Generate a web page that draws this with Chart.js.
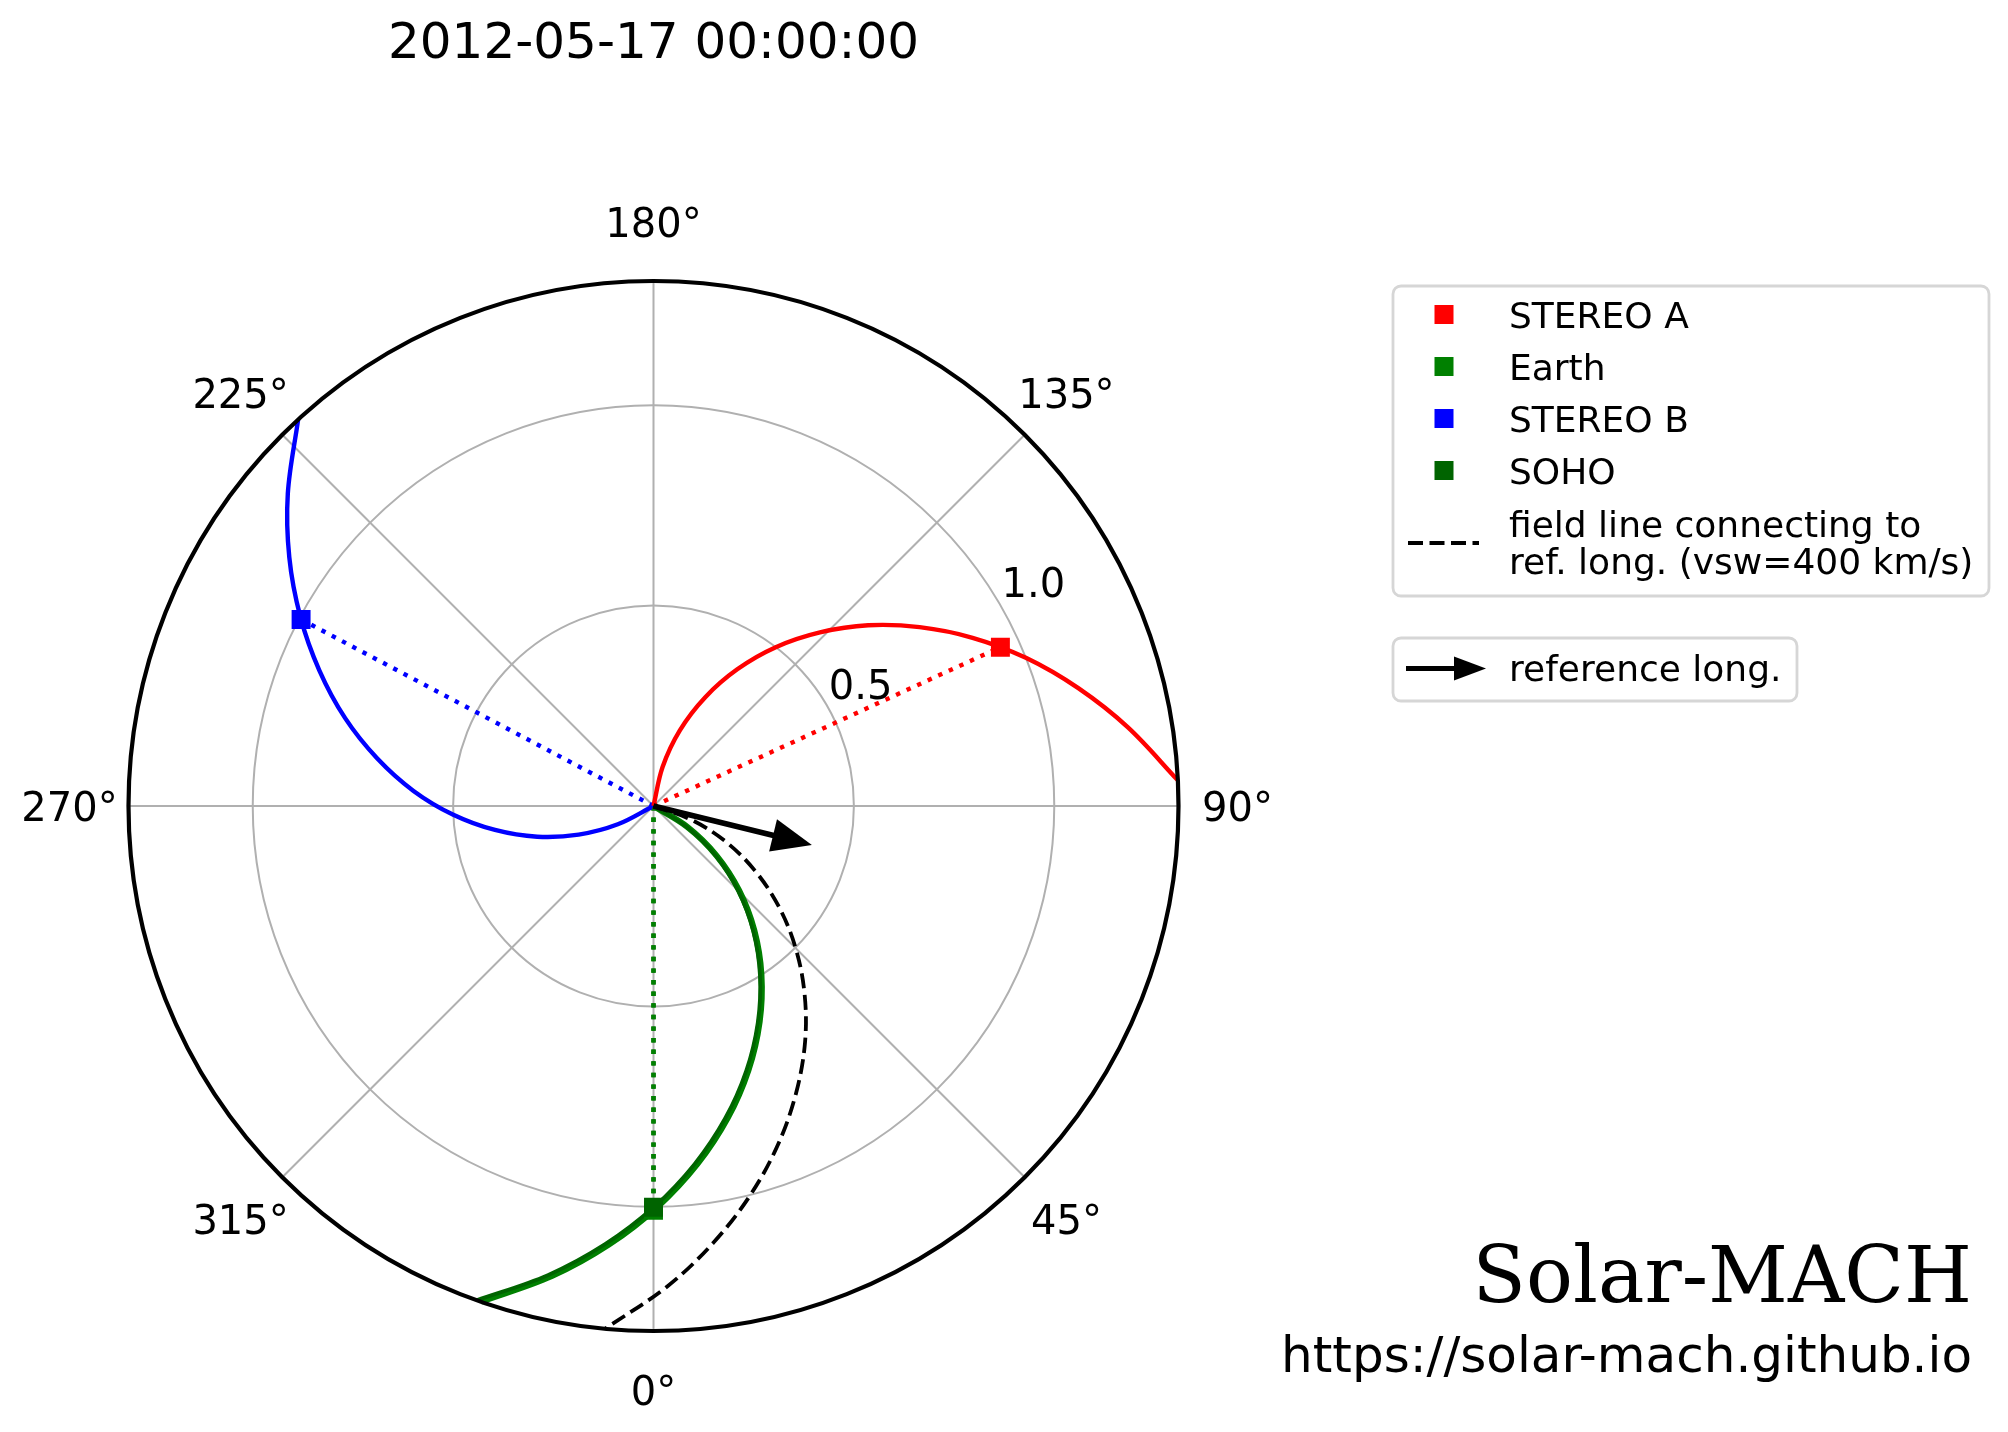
<!DOCTYPE html>
<html>
<head>
<meta charset="utf-8">
<title>Solar-MACH 2012-05-17</title>
<script src="https://cdn.jsdelivr.net/npm/chart.js@4.4.1/dist/chart.umd.min.js"></script>
<style>
html,body{margin:0;padding:0;background:#fff;}
#wrap{width:2008px;height:1432px;}
</style>
</head>
<body>
<div id="wrap"><canvas id="chart" width="2008" height="1432"></canvas></div>
<script>
var title="2012-05-17 00:00:00";
var bodies=["STEREO A","Earth","STEREO B","SOHO"];
var bodyColors=["#ff0000","#008000","#0000ff","#006400"];
var bodyDist=[0.952,1.009,0.995,1.001];   // AU
var bodyLon=[114.6,0.0,242.1,0.0];         // deg
// field lines: longitude (deg) at each radius (AU)
var spiralR=[0,0.1,0.2,0.3,0.4,0.5,0.6,0.7,0.8,0.9,1.0,1.1,1.2,1.31];
var lonStereoA=[173.1,166.9,160.8,154.6,148.5,142.4,136.2,130.1,123.9,117.8,111.7,105.5,99.4,92.8];
var lonEarth=[64.6,58.2,51.8,45.4,39.0,32.6,26.2,19.8,13.4,7.0,0.6,-5.8,-12.2,-19.2];
var lonStereoB=[303.2,297.1,290.9,284.8,278.6,272.5,266.4,260.2,254.1,247.9,241.8,235.7,229.5,222.6];
var lonSoho=[64.1,57.7,51.3,44.9,38.5,32.1,25.7,19.3,12.9,6.5,0.1,-6.3,-12.7,-19.7];
var lonRef=[76.2,70.0,63.8,57.5,51.3,45.1,38.9,32.7,26.4,20.2,14.0,7.8,1.6,-5.3];
var refLong=76.2, refArrowLen=0.407;
var rMax=1.31;
var rTicks=[0.5,1.0];
var rTickLabels=["0.5","1.0"];
var thetaTicks=[0,45,90,135,180,225,270,315];
var thetaLabels=["0°","45°","90°","135°","180°","225°","270°","315°"];

var spiralLons=[lonStereoA,lonEarth,lonStereoB,lonSoho];
var lineWidths=[4.4,6,4.4,3.8];

function toXY(r,lon){
	var a=lon*Math.PI/180;
	return {x:r*Math.sin(a),y:-r*Math.cos(a)};
}
function curve(lons){
	return spiralR.map(function(r,i){return toXY(r,lons[i]);});
}

var datasets=[];
for(var i=0;i<bodies.length;i++){
	datasets.push({label:bodies[i],data:[toXY(bodyDist[i],bodyLon[i])],showLine:false,
		pointStyle:"rect",pointRadius:13.4,backgroundColor:bodyColors[i],borderWidth:0,order:i==3?0:1});
	datasets.push({label:bodies[i]+" line",data:curve(spiralLons[i]),showLine:true,pointRadius:0,
		borderColor:bodyColors[i],borderWidth:lineWidths[i],tension:0.35,fill:false,order:i==3?4:5});
	datasets.push({label:bodies[i]+" radial",data:[toXY(0,bodyLon[i]),toXY(bodyDist[i],bodyLon[i])],showLine:true,
		pointRadius:0,borderColor:bodyColors[i],borderWidth:4.4,borderDash:[4.4,7.2],order:6});
}
datasets.push({label:"ref",data:curve(lonRef),showLine:true,pointRadius:0,borderColor:"#000",
	borderWidth:3.8,borderDash:[15,6.5],tension:0.35,order:3});

function legendBox(ctx,x,y,w,h){
	ctx.save();
	ctx.strokeStyle="#d6d6d6";ctx.lineWidth=2.8;
	ctx.beginPath();ctx.roundRect(x,y,w,h,8);ctx.stroke();
	ctx.restore();
}
function arrow(ctx,x0,y0,x1,y1,lw,hl,hw){
	var len=Math.hypot(x1-x0,y1-y0),ux=(x1-x0)/len,uy=(y1-y0)/len;
	ctx.save();
	ctx.strokeStyle="#000";ctx.fillStyle="#000";ctx.lineWidth=lw;
	ctx.beginPath();ctx.moveTo(x0,y0);ctx.lineTo(x1-ux*hl*0.8,y1-uy*hl*0.8);ctx.stroke();
	ctx.beginPath();ctx.moveTo(x1,y1);
	ctx.lineTo(x1-ux*hl-uy*hw,y1-uy*hl+ux*hw);
	ctx.lineTo(x1-ux*hl+uy*hw,y1-uy*hl-ux*hw);
	ctx.closePath();ctx.fill();
	ctx.restore();
}

var polarPlugin={
	id:"polar",
	beforeDatasetsDraw:function(chart){
		var ctx=chart.ctx,sx=chart.scales.x,sy=chart.scales.y;
		var cx=sx.getPixelForValue(0),cy=sy.getPixelForValue(0);
		var k=sx.getPixelForValue(1)-cx;
		ctx.save();
		ctx.strokeStyle="#b0b0b0";ctx.lineWidth=2;
		thetaTicks.forEach(function(t){
			var p=toXY(rMax,t);
			ctx.beginPath();ctx.moveTo(cx,cy);
			ctx.lineTo(sx.getPixelForValue(p.x),sy.getPixelForValue(p.y));ctx.stroke();
		});
		rTicks.forEach(function(r){
			ctx.beginPath();ctx.arc(cx,cy,r*k,0,2*Math.PI);ctx.stroke();
		});
		ctx.restore();
	},
	afterDatasetsDraw:function(chart){
		var ctx=chart.ctx,sx=chart.scales.x,sy=chart.scales.y;
		var cx=sx.getPixelForValue(0),cy=sy.getPixelForValue(0);
		var k=sx.getPixelForValue(1)-cx;
		// reference longitude arrow
		var tip=toXY(refArrowLen,refLong);
		arrow(ctx,cx,cy,sx.getPixelForValue(tip.x),sy.getPixelForValue(tip.y),5.5,40,16.5);
		// outer frame
		ctx.save();
		ctx.strokeStyle="#000";ctx.lineWidth=4.2;
		ctx.beginPath();ctx.arc(cx,cy,rMax*k,0,2*Math.PI);ctx.stroke();
		// angle labels
		ctx.fillStyle="#000";ctx.font="40px 'DejaVu Sans'";ctx.textAlign="center";ctx.textBaseline="alphabetic";
		thetaTicks.forEach(function(t,i){
			var a=t*Math.PI/180,R=rMax*k+59;
			ctx.fillText(thetaLabels[i],cx+R*Math.sin(a),cy+R*Math.cos(a)+14.6);
		});
		rTicks.forEach(function(r,i){
			var a=120.5*Math.PI/180,R=r*k+40;
			ctx.fillText(rTickLabels[i],cx+R*Math.sin(a),cy+R*Math.cos(a)+14.6);
		});
		// title
		ctx.font="50px 'DejaVu Sans'";
		ctx.fillText(title,cx,58);
		// legends
		legendBox(ctx,1393,286,596,310);
		legendBox(ctx,1393,638,404,63);
		ctx.font="36px 'DejaVu Sans'";ctx.textAlign="left";
		var rows=[314.5,366.5,418.5,470.5];
		for(var i=0;i<bodies.length;i++){
			ctx.fillStyle=bodyColors[i];
			ctx.fillRect(1434.5,rows[i]-9.5,19,19);
			ctx.fillStyle="#000";
			ctx.fillText(bodies[i],1509,rows[i]+13.5);
		}
		ctx.strokeStyle="#000";ctx.lineWidth=3.8;ctx.setLineDash([15,6.5]);
		ctx.beginPath();ctx.moveTo(1408,543);ctx.lineTo(1479,543);ctx.stroke();
		ctx.setLineDash([]);
		ctx.fillText("field line connecting to",1509,536.5);
		ctx.fillText("ref. long. (vsw=400 km/s)",1509,574);
		arrow(ctx,1406,668.5,1486,668.5,5,32,12);
		ctx.fillText("reference long.",1509,681);
		// watermark
		ctx.textAlign="right";
		ctx.font="78px 'DejaVu Serif'";
		ctx.fillText("Solar-MACH",1972,1302);
		ctx.font="50px 'DejaVu Sans'";
		ctx.fillText("https://solar-mach.github.io",1972,1372);
		ctx.restore();
	}
};

new Chart("chart",{
	type:"scatter",
	data:{datasets:datasets},
	options:{
		responsive:false,
		devicePixelRatio:1,
		animation:false,
		events:[],
		layout:{padding:{left:128.5,right:829.5,top:281,bottom:101}},
		scales:{
			x:{type:"linear",min:-rMax,max:rMax,display:false},
			y:{type:"linear",min:-rMax,max:rMax,display:false}
		},
		plugins:{legend:{display:false},tooltip:{enabled:false},title:{display:false}}
	},
	plugins:[polarPlugin]
});
</script>
</body>
</html>
